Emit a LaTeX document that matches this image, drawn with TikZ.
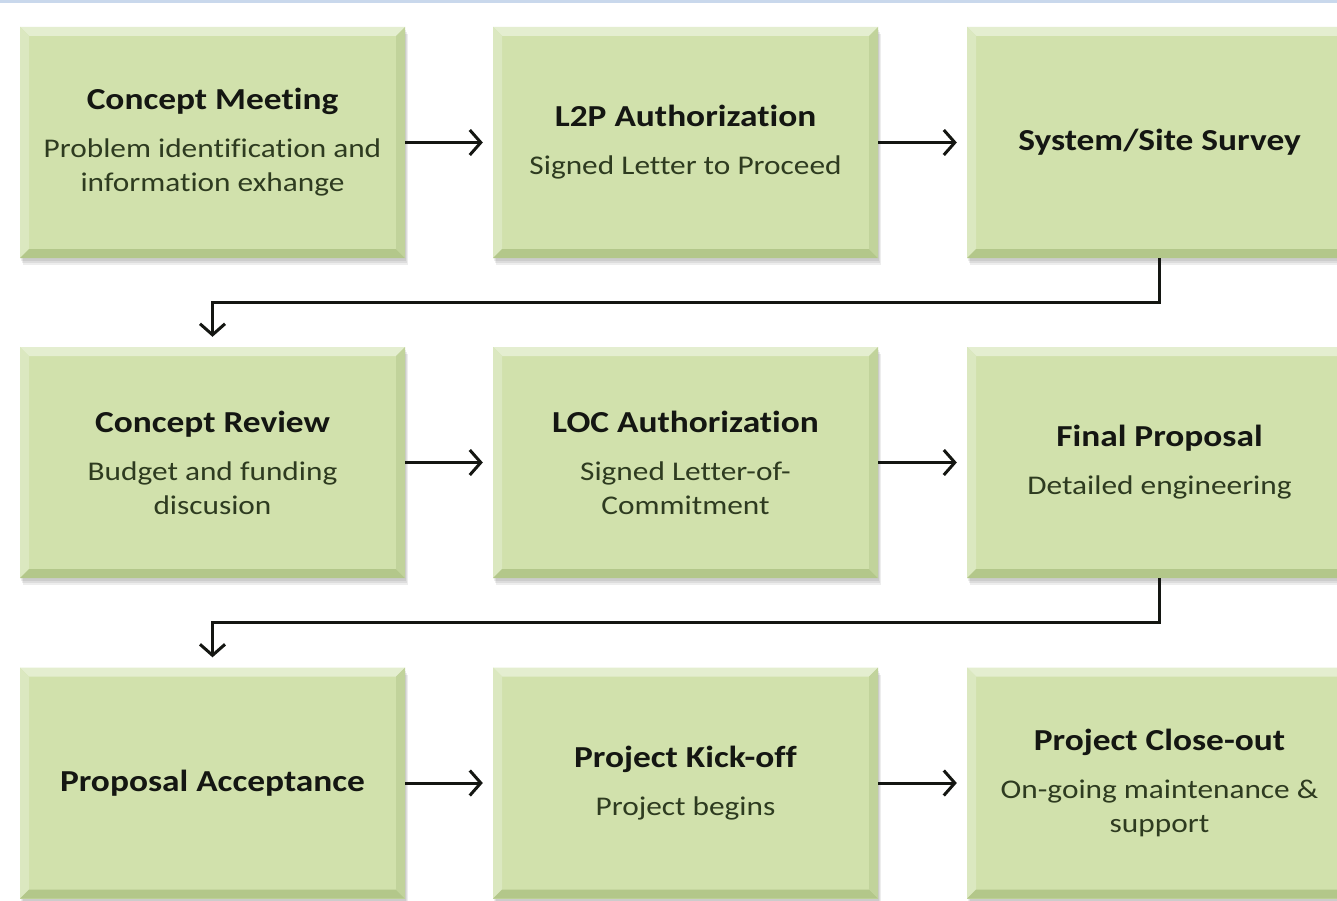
\documentclass[tikz,border=0pt]{standalone}
\usepackage{fontspec}
\setmainfont{Carlito}[FakeStretch=1.16, Ligatures={NoCommon}]
\usetikzlibrary{arrows.meta,calc,shadows}

\definecolor{face}{HTML}{D1E1AC}
\definecolor{bevtop}{HTML}{E4EED0}
\definecolor{bevleft}{HTML}{DBE8C0}
\definecolor{bevbottom}{HTML}{B3C78A}
\definecolor{bevright}{HTML}{C1D39B}
\definecolor{ink}{HTML}{141612}
\definecolor{bodyink}{HTML}{2E3B20}
\definecolor{rule}{HTML}{C9D8EC}

\newcommand{\stagetitle}[1]{{\fontsize{30.5}{35}\selectfont\bfseries\color{ink}#1}}

\tikzset{
  stage/.style={
    minimum width=385pt, minimum height=231pt, inner sep=0pt,
    align=center, fill=face, text=bodyink,
    font=\fontsize{27}{34}\selectfont,
    general shadow={fill=black, opacity=0.07, shadow xshift=1pt, shadow yshift=-3pt},
    general shadow={fill=black, opacity=0.07, shadow xshift=2pt, shadow yshift=-5pt},
    general shadow={fill=black, opacity=0.07, shadow xshift=3pt, shadow yshift=-7pt},
    path picture={
      \def\pb{path picture bounding box}
      \fill[bevtop] (\pb.north west) -- (\pb.north east)
        -- ([xshift=-9pt,yshift=-9pt]\pb.north east) -- ([xshift=9pt,yshift=-9pt]\pb.north west) -- cycle;
      \fill[bevleft] (\pb.north west) -- ([xshift=9pt,yshift=-9pt]\pb.north west)
        -- ([xshift=9pt,yshift=9pt]\pb.south west) -- (\pb.south west) -- cycle;
      \fill[bevbottom] (\pb.south west) -- ([xshift=9pt,yshift=9pt]\pb.south west)
        -- ([xshift=-9pt,yshift=9pt]\pb.south east) -- (\pb.south east) -- cycle;
      \fill[bevright] (\pb.south east) -- ([xshift=-9pt,yshift=9pt]\pb.south east)
        -- ([xshift=-9pt,yshift=-9pt]\pb.north east) -- (\pb.north east) -- cycle;
    }
  },
  flow/.style={draw=ink, line width=3pt,
    -{Straight Barb[length=11pt, width=25pt, line width=3pt]}, shorten >=10pt}
}

\begin{document}
\begin{tikzpicture}[x=1pt, y=-1pt]
  \clip (0,0) rectangle (1337,901);
  \fill[white] (0,0) rectangle (1337,901);
  \fill[rule] (0,0) rectangle (1337,3.5);

  % first row
  \node[stage] (cm) at (212.5,142.5) {\stagetitle{Concept Meeting}\\[14pt]Problem identification and\\information exhange};
  \node[stage] (l2p) at (685.5,142.5) {\stagetitle{L2P Authorization}\\[14pt]Signed Letter to Proceed};
  \node[stage] (ss) at (1159.5,142.5) {\stagetitle{System/Site Survey}};

  % second row
  \node[stage] (cr) at (212.5,462.5) {\stagetitle{Concept Review}\\[14pt]Budget and funding\\discusion};
  \node[stage] (loc) at (685.5,462.5) {\stagetitle{LOC Authorization}\\[14pt]Signed Letter-of-\\Commitment};
  \node[stage] (fp) at (1159.5,462.5) {\stagetitle{Final Proposal}\\[14pt]Detailed engineering};

  % third row
  \node[stage] (pa) at (212.5,783) {\stagetitle{Proposal Acceptance}};
  \node[stage] (pk) at (685.5,783) {\stagetitle{Project Kick-off}\\[14pt]Project begins};
  \node[stage] (pc) at (1159.5,783) {\stagetitle{Project Close-out}\\[14pt]On-going maintenance \&\\support};

  % connectors within rows
  \draw[flow] (cm) -- (l2p);
  \draw[flow] (l2p) -- (ss);
  \draw[flow] (cr) -- (loc);
  \draw[flow] (loc) -- (fp);
  \draw[flow] (pa) -- (pk);
  \draw[flow] (pk) -- (pc);

  % connectors between rows
  \draw[flow] (ss.south) -- ($(ss.south)!0.5!(fp.north)$) -| (cr.north);
  \draw[flow] (fp.south) -- ($(fp.south)!0.5!(pc.north)$) -| (pa.north);
\end{tikzpicture}
\end{document}
